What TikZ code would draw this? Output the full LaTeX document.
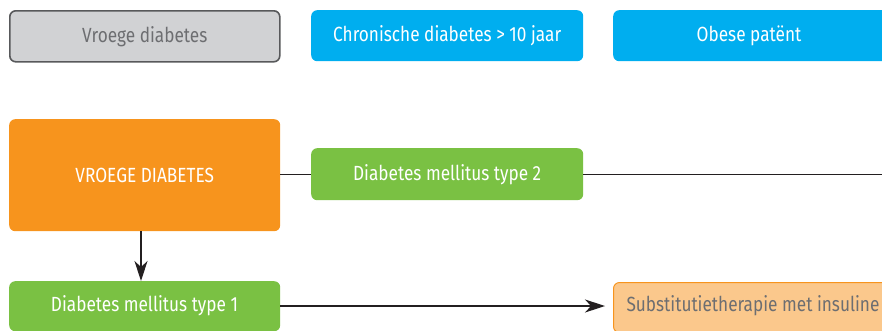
\documentclass[tikz,border=0pt]{standalone}
\usepackage{fontspec}
\setmainfont[FakeStretch=0.84]{Fira Sans}
\usetikzlibrary{arrows.meta}
\definecolor{boxgray}{HTML}{D1D2D4}
\definecolor{edgegray}{HTML}{58595B}
\definecolor{textgray}{HTML}{6D6E71}
\definecolor{skyblue}{HTML}{00AEEF}
\definecolor{deeporange}{HTML}{F7941D}
\definecolor{leafgreen}{HTML}{7AC143}
\definecolor{paleorange}{HTML}{FBC88C}
\definecolor{linegray}{HTML}{231F20}
\tikzset{
  labelfont/.style={font=\fontsize{20.5}{22}\selectfont},
  card/.style={rounded corners=6pt, labelfont, inner sep=0pt},
  graycard/.style={card, fill=boxgray, draw=edgegray, line width=1.6pt, text=textgray},
  bluecard/.style={card, fill=skyblue, text=white},
  orangecard/.style={card, fill=deeporange, text=white},
  greencard/.style={card, fill=leafgreen, text=white},
  palecard/.style={card, fill=paleorange, draw=deeporange, line width=1pt, text=textgray},
  link/.style={draw=linegray, line width=1.2pt},
  arrowlink/.style={link, -{Stealth[length=20pt, width=13pt, inset=6pt]}},
}
\begin{document}
\begin{tikzpicture}[x=1pt, y=-1pt]
\useasboundingbox (0,0) rectangle (882,330);
\clip (0,0) rectangle (882,330);

% top row of categories
\node[graycard, minimum width=270pt, minimum height=51pt, anchor=north west] (early) at (9,10) {Vroege diabetes};
\node[bluecard, minimum width=272pt, minimum height=51pt, anchor=north west] (chronic) at (311,10) {Chronische diabetes > 10 jaar};
\node[bluecard, minimum width=290pt, minimum height=51pt, anchor=north west] (obese) at (613,10) {};
\node[labelfont, text=white] (obeselabel) at (749,35.5) {Obese patënt};

% decision tree
\node[orangecard, minimum width=271pt, minimum height=112pt, anchor=north west] (root) at (9,119) {VROEGE DIABETES};
\node[greencard, minimum width=272pt, minimum height=52pt, anchor=north west] (type2) at (311,148) {Diabetes mellitus type 2};
\node[greencard, minimum width=271pt, minimum height=50pt, anchor=north west] (type1) at (9,281) {};
\node[labelfont, text=white] (type1label) at (144.5,306) {Diabetes mellitus type 1};
\node[palecard, minimum width=290pt, minimum height=50pt, anchor=north west] (therapy) at (613,282) {};
\node[labelfont, text=textgray, anchor=west] (therapylabel) at (623,306) {Substitutietherapie met insuline};
\coordinate (rightedge) at (890,174);

\draw[link] (root.east |- type2.west) -- (type2.west);
\draw[link] (type2.east) -- (type2.east -| rightedge);
\draw[arrowlink] (root.south -| 141,0) -- (type1.north -| 141,0);
\draw[arrowlink, shorten >=8pt] (type1.east |- 0,306) -- (therapy.west |- 0,306);
\end{tikzpicture}
\end{document}
